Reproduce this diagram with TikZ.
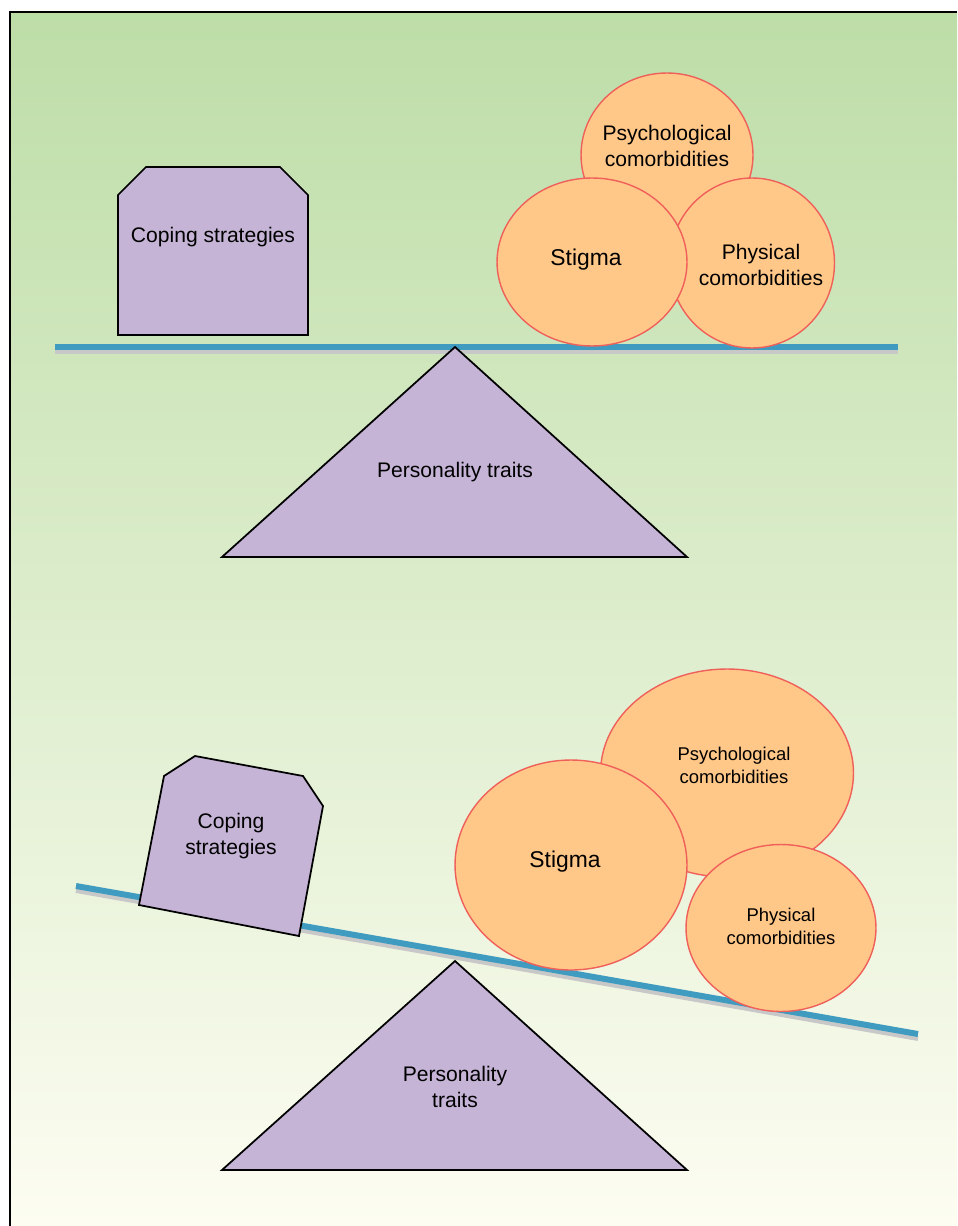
\documentclass[tikz,border=0pt]{standalone}
\usepackage{fontspec}
\setmainfont{Liberation Sans}
\usetikzlibrary{shapes.geometric,positioning}

\definecolor{bgtop}{RGB}{189,221,167}
\definecolor{bgbot}{RGB}{253,253,242}
\definecolor{lilac}{RGB}{197,180,214}
\definecolor{peach}{RGB}{255,200,137}
\definecolor{salmon}{RGB}{240,96,90}
\definecolor{beamblue}{RGB}{63,155,192}
\definecolor{beamgrey}{RGB}{200,200,200}

\begin{document}
\begin{tikzpicture}[
  x=0.02cm, y=-0.02cm,
  font=\fontsize{12}{14.8}\selectfont,
  weight/.style={draw=black, fill=lilac, line width=1pt},
  load/.style={ellipse, draw=salmon, fill=peach, line width=0.8pt, inner sep=0pt},
  beam/.style={draw=beamblue, line width=3.4pt},
  beamshadow/.style={draw=beamgrey, line width=2.8pt},
  txt/.style={align=center},
  smalltxt/.style={txt, font=\fontsize{10.5}{13}\selectfont},
  bigtxt/.style={txt, font=\fontsize{13}{16}\selectfont}]

\useasboundingbox (0,0) rectangle (957,1226);
\shade[top color=bgtop, bottom color=bgbot] (10,12) rectangle (957,1226);
\draw[line width=1pt] (10,1226) -- (10,12) -- (957,12);

% balanced
\coordinate (bl1) at (55,347);
\coordinate (br1) at (898,347);
\draw[beamshadow] ([yshift=-0.09cm]bl1) -- ([yshift=-0.09cm]br1);
\draw[beam] (bl1) -- (br1);

\draw[weight] (455,347) -- (687,557) -- (222,557) -- cycle;
\node[txt] (pers1) at (455,472) {Personality traits};

\draw[weight] (118,335) -- (308,335) -- (308,195) -- (280,167) -- (146,167) -- (118,195) -- cycle;
\node[txt] (cope1) at (213,237) {Coping strategies};

\node[load, minimum width=3.44cm, minimum height=3.28cm] (psy1) at (667,155) {};
\node[txt] (psy1t) at (667,146) {Psychological\\comorbidities};
\node[load, minimum width=3.3cm, minimum height=3.4cm] (phy1) at (752,263) {};
\node[txt] (phy1t) at (761,265) {Physical\\comorbidities};
\node[load, minimum width=3.8cm, minimum height=3.36cm] (stig1) at (592,262) {};
\node[bigtxt] (stig1t) at (586,260) {Stigma};

% tipped
\coordinate (bl2) at (76,886);
\coordinate (br2) at (918,1034);
\draw[beamshadow] ([yshift=-0.09cm]bl2) -- ([yshift=-0.09cm]br2);
\draw[beam] (bl2) -- (br2);

\draw[weight] (139,905) -- (299,936) -- (323,806) -- (303,776) -- (195,756) -- (164,776) -- cycle;
\node[txt] (cope2) at (231,836) {Coping\\strategies};

\draw[weight] (455,961) -- (687,1170) -- (222,1170) -- cycle;
\node[txt] (pers2) at (455,1087) {Personality\\traits};

\node[load, minimum width=5.06cm, minimum height=4.16cm] (psy2) at (727,773) {};
\node[smalltxt] (psy2t) at (734,765) {Psychological\\comorbidities};
\node[load, minimum width=4.64cm, minimum height=4.2cm] (stig2) at (571,865) {};
\node[bigtxt] (stig2t) at (565,862) {Stigma};
\node[load, minimum width=3.8cm, minimum height=3.34cm] (phy2) at (781,928) {};
\node[smalltxt] (phy2t) at (781,926) {Physical\\comorbidities};

\end{tikzpicture}
\end{document}
